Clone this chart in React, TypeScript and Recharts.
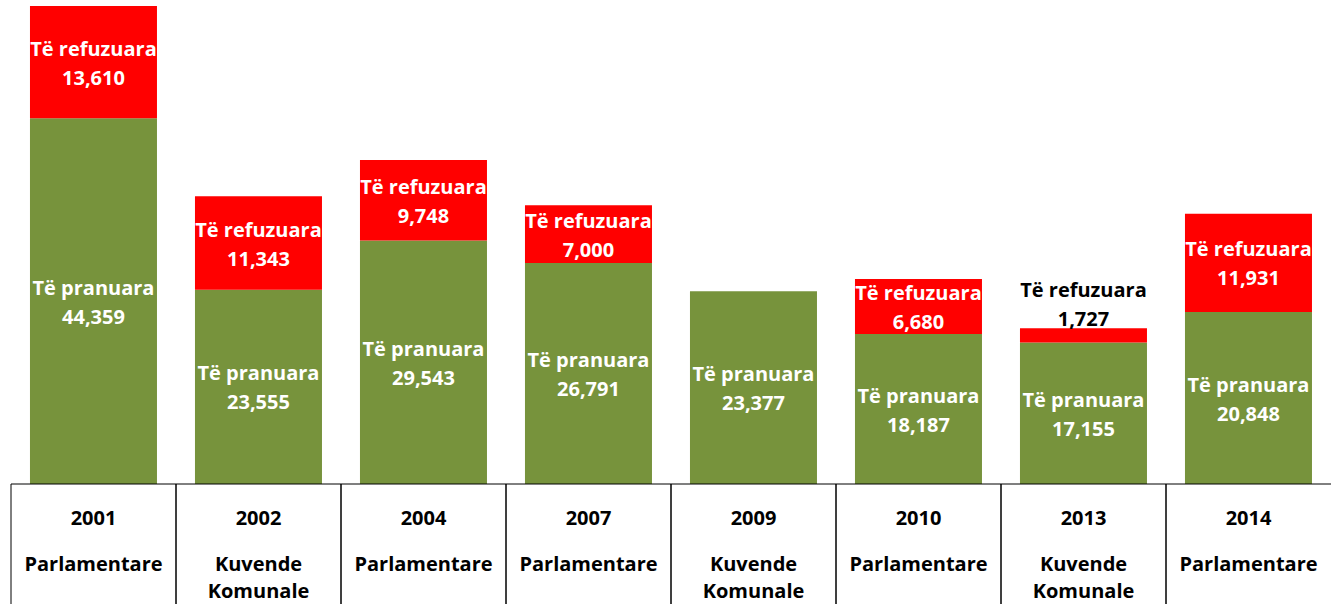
import React from 'react';
import { BarChart, Bar, XAxis, YAxis, LabelList } from 'recharts';

const years = ['2001', '2002', '2004', '2007', '2009', '2010', '2013', '2014'];
const types = [
  ['Parlamentare'],
  ['Kuvende', 'Komunale'],
  ['Parlamentare'],
  ['Parlamentare'],
  ['Kuvende', 'Komunale'],
  ['Parlamentare'],
  ['Kuvende', 'Komunale'],
  ['Parlamentare'],
];
const accepted = [44359, 23555, 29543, 26791, 23377, 18187, 17155, 20848];
const refused: (number | null)[] = [13610, 11343, 9748, 7000, null, 6680, 1727, 11931];

const acceptedLabel = 'Të pranuara';
const refusedLabel = 'Të refuzuara';

const data = years.map((y, i) => ({
  year: y,
  idx: i,
  accepted: accepted[i],
  refused: refused[i],
}));

const FONT = '"Open Sans", Lato, sans-serif';
const FS = 20;
const fmt = (v: number) => v.toLocaleString('en-US');

const makeLabel = (title: string, small: boolean) => (props: any) => {
  const { x, y, width, height, value } = props;
  if (value == null) return null;
  const cx = x + width / 2;
  const isTiny = small && height < 40;
  const cy = isTiny ? y - 25 : y + height / 2;
  const fill = isTiny ? '#000' : '#fff';
  return (
    <g>
      <text x={cx} y={cy - 14} textAnchor="middle" dominantBaseline="central" fill={fill}
        style={{ fontFamily: FONT, fontWeight: 700, fontSize: FS }}>{title}</text>
      <text x={cx} y={cy + 15} textAnchor="middle" dominantBaseline="central" fill={fill}
        style={{ fontFamily: FONT, fontWeight: 700, fontSize: FS }}>{fmt(value)}</text>
    </g>
  );
};

const COL_W = 165;

const TableTick = (props: any) => {
  const { x, payload, index } = props;
  const top = 484;
  const i = payload.index ?? index;
  const lines = types[i] || [];
  return (
    <g>
      <line x1={x - COL_W / 2} y1={top} x2={x - COL_W / 2} y2={604} stroke="#000" strokeWidth={1} />
      {i < years.length - 1 && (
        <line x1={x + COL_W / 2} y1={top} x2={x + COL_W / 2} y2={604} stroke="#000" strokeWidth={1} />
      )}
      <text x={x} y={517} textAnchor="middle" dominantBaseline="central" fill="#000"
        style={{ fontFamily: FONT, fontWeight: 700, fontSize: FS }}>{payload.value}</text>
      {lines.map((l: string, k: number) => (
        <text key={k} x={x} y={563 + k * 27} textAnchor="middle" dominantBaseline="central" fill="#000"
          style={{ fontFamily: FONT, fontWeight: 700, fontSize: FS }}>{l}</text>
      ))}
    </g>
  );
};

export default function App() {
  return (
    <div style={{ position: 'absolute', left: 0, top: 0, background: '#fff' }}>
      <BarChart
        width={1331}
        height={604}
        data={data}
        margin={{ top: 6, right: 0, left: 11, bottom: 0 }}
        barCategoryGap="11.5%"
      >
        <XAxis
          dataKey="year"
          height={120}
          interval={0}
          tickLine={false}
          axisLine={{ stroke: '#000', strokeWidth: 1 }}
          tick={<TableTick />}
        />
        <YAxis hide domain={[0, 57969]} />
        <Bar dataKey="accepted" stackId="a" fill="#77933C" isAnimationActive={false}>
          <LabelList dataKey="accepted" content={makeLabel(acceptedLabel, false)} />
        </Bar>
        <Bar dataKey="refused" stackId="a" fill="#FF0000" isAnimationActive={false}>
          <LabelList dataKey="refused" content={makeLabel(refusedLabel, true)} />
        </Bar>
      </BarChart>
    </div>
  );
}
